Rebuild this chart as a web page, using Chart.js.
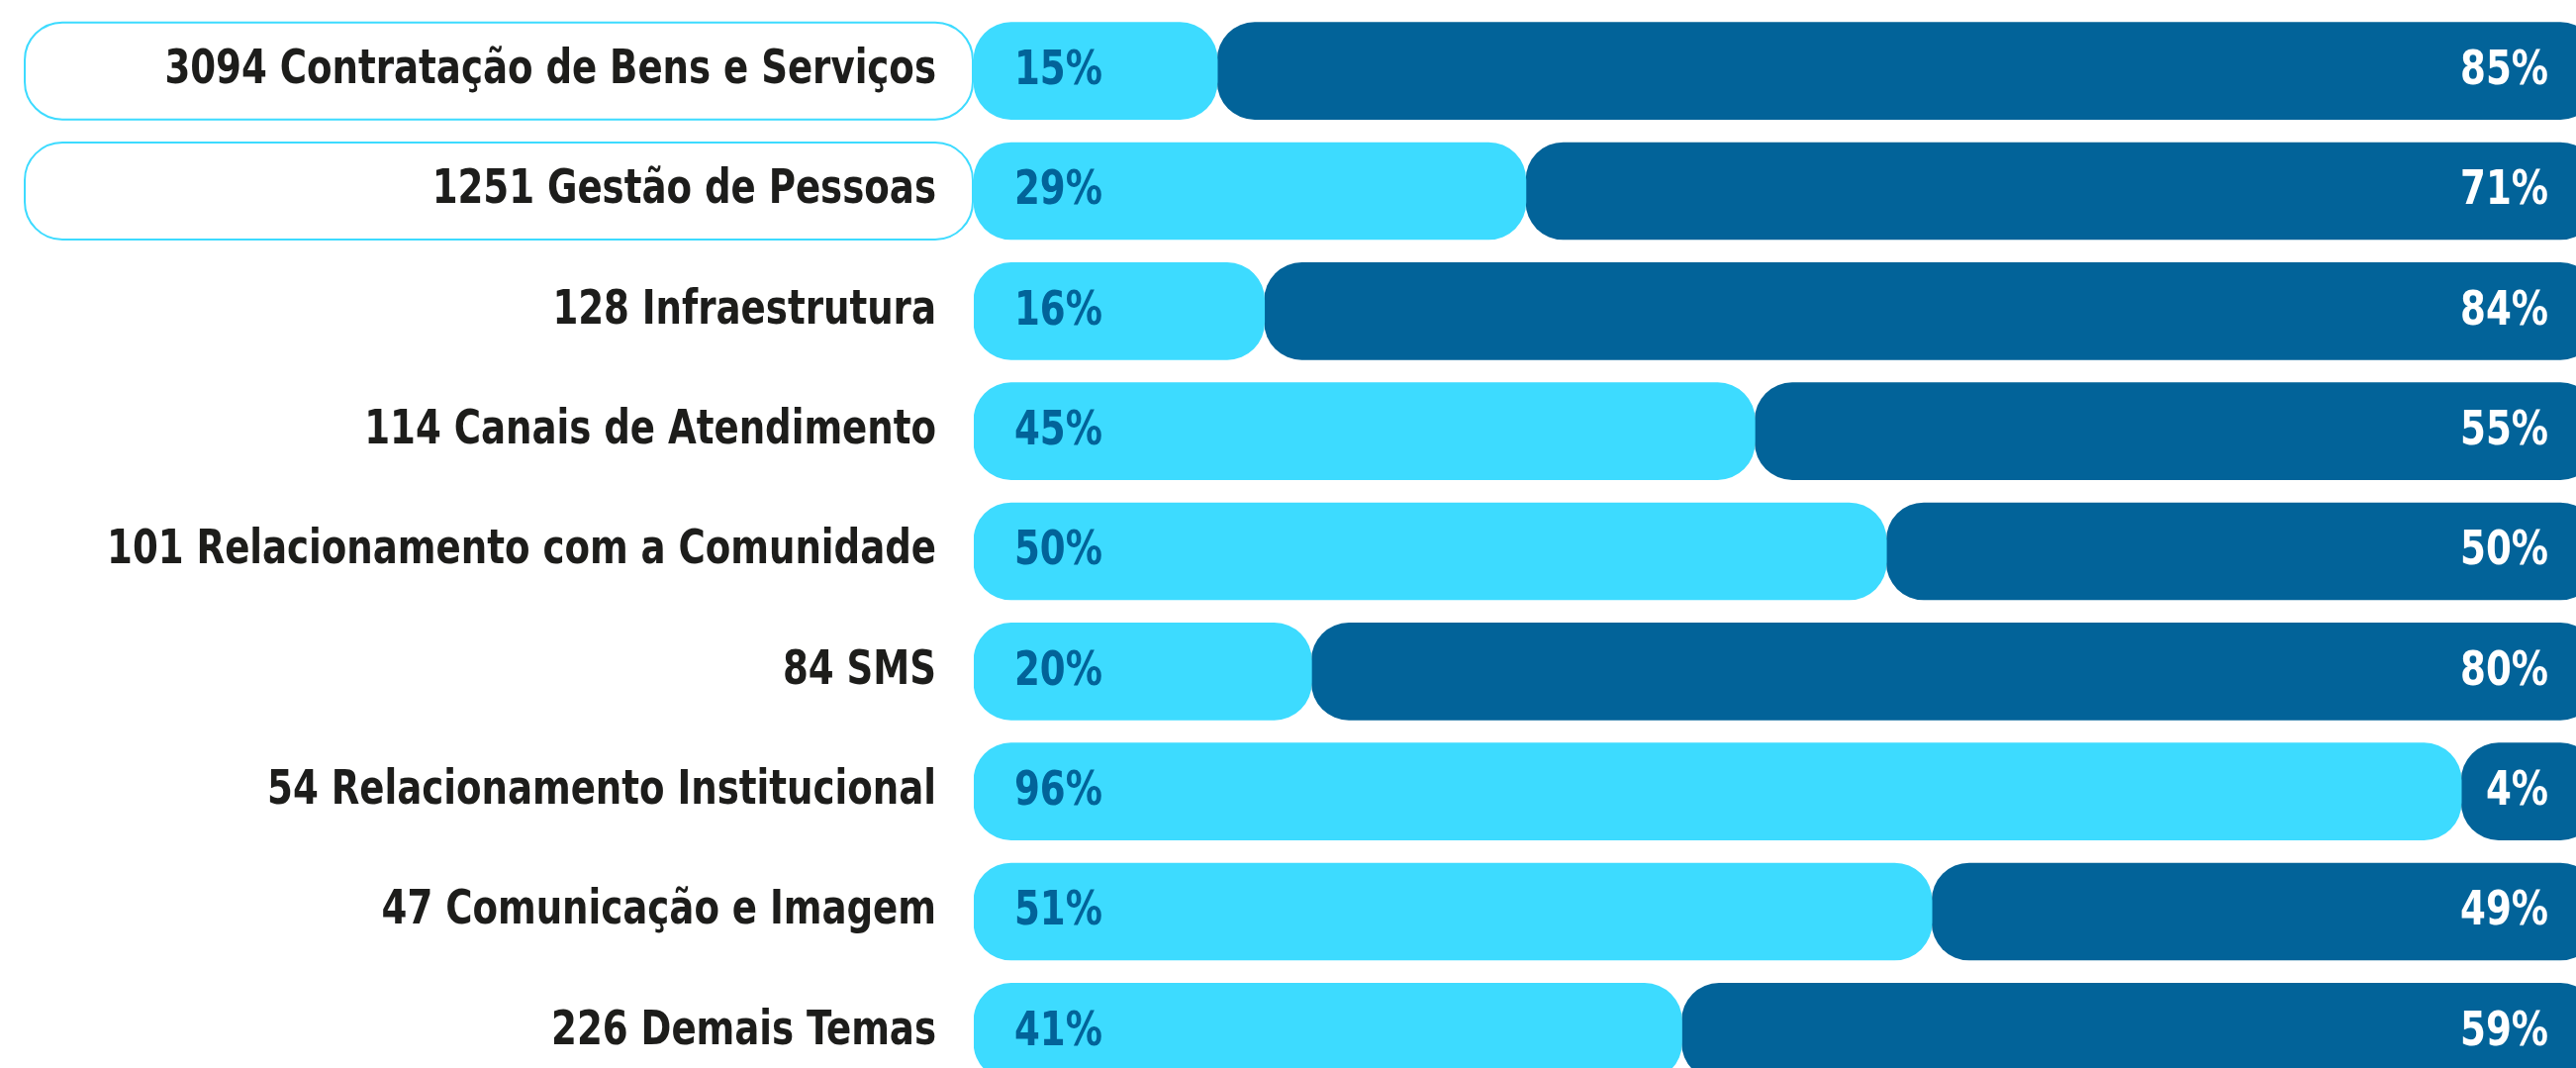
<!DOCTYPE html>
<html>
<head>
<meta charset="utf-8">
<script src="https://cdn.jsdelivr.net/npm/chart.js@4/dist/chart.umd.min.js"></script>
<style>
  html, body { margin: 0; padding: 0; overflow: hidden; background: #ffffff; }
  #wrap { position: absolute; left: 0; top: 0; width: 2625px; height: 1103px; }
</style>
</head>
<body>
<div id="wrap"><canvas id="c"></canvas></div>
<script>
// ---- data ----
const counts = [3094, 1251, 128, 114, 101, 84, 54, 47, 226];
const themes = [
  'Contratação de Bens e Serviços',
  'Gestão de Pessoas',
  'Infraestrutura',
  'Canais de Atendimento',
  'Relacionamento com a Comunidade',
  'SMS',
  'Relacionamento Institucional',
  'Comunicação e Imagem',
  'Demais Temas'
];
// printed percentages
const lightPctLabels = ['15%', '29%', '16%', '45%', '50%', '20%', '96%', '51%', '41%'];
const darkPctLabels  = ['85%', '71%', '84%', '55%', '50%', '80%', '4%', '49%', '59%'];
// bar segment lengths as drawn in the picture (share of the full bar)
const lightBar = [15.0, 34.0, 17.9, 48.1, 56.2, 20.8, 91.6, 59.0, 43.6];
const darkBar  = [85.0, 66.0, 82.1, 51.9, 43.8, 79.2, 8.4, 41.0, 56.4];
// rows that carry an outlined label box
const highlightedRows = [0, 1];

const categories = counts.map((n, i) => n + ' ' + themes[i]);

const LIGHT = '#3ddbff';
const DARK = '#026399';
const FONT = "'DejaVu Sans Condensed', 'Liberation Sans Narrow', 'DejaVu Sans', sans-serif";
const FONT_SIZE = 48;
const SQUEEZE = 0.86;       // horizontal squeeze to imitate the narrow typeface
const RADIUS = { topLeft: 38, topRight: 38, bottomLeft: 38, bottomRight: 38 };

const decorations = {
  id: 'decorations',
  beforeDraw(chart) {
    const ctx = chart.ctx;
    const meta = chart.getDatasetMeta(0);
    // outlined label boxes behind the first rows' category labels
    ctx.save();
    ctx.strokeStyle = LIGHT;
    ctx.lineWidth = 2;
    ctx.fillStyle = '#ffffff';
    highlightedRows.forEach(i => {
      const el = meta.data[i];
      const h = el.height;
      const top = el.y - h / 2;
      const left = 25;
      const right = chart.chartArea.left - 1;
      ctx.beginPath();
      ctx.roundRect(left, top, right - left, h, 38);
      ctx.fill();
      ctx.stroke();
    });
    ctx.restore();
    // narrow the category tick labels around their right edge
    const ys = chart.scales.y;
    if (!ys._squeezed) {
      const orig = ys.drawLabels;
      ys._computeLabelArea = function () { return undefined; };
      ys.drawLabels = function (area) {
        const c = this.ctx;
        const ax = this.right - this.options.ticks.padding;
        c.save();
        c.translate(ax, 0);
        c.scale(SQUEEZE, 1);
        c.translate(-ax, 0);
        orig.call(this, area);
        c.restore();
      };
      ys._squeezed = true;
    }
  },
  afterDatasetsDraw(chart) {
    const ctx = chart.ctx;
    const m0 = chart.getDatasetMeta(0);
    const m1 = chart.getDatasetMeta(1);
    ctx.save();
    ctx.font = 'bold ' + FONT_SIZE + 'px ' + FONT;
    ctx.textBaseline = 'middle';
    m0.data.forEach((el, i) => {
      const x = el.base + 41;
      ctx.save();
      ctx.translate(x, el.y + 1);
      ctx.scale(SQUEEZE, 1);
      ctx.fillStyle = DARK;
      ctx.textAlign = 'left';
      ctx.fillText(lightPctLabels[i], 0, 0);
      ctx.restore();
    });
    m1.data.forEach((el, i) => {
      const x = el.x - 50;
      ctx.save();
      ctx.translate(x, el.y + 1);
      ctx.scale(SQUEEZE, 1);
      ctx.fillStyle = '#ffffff';
      ctx.textAlign = 'right';
      ctx.fillText(darkPctLabels[i], 0, 0);
      ctx.restore();
    });
    ctx.restore();
  }
};

new Chart(document.getElementById('c'), {
  type: 'bar',
  data: {
    labels: categories,
    datasets: [
      { label: 'light', data: lightBar, backgroundColor: LIGHT, borderRadius: RADIUS, borderSkipped: false, barThickness: 98 },
      { label: 'dark', data: darkBar, backgroundColor: DARK, borderRadius: RADIUS, borderSkipped: false, barThickness: 98 }
    ]
  },
  options: {
    indexAxis: 'y',
    responsive: true,
    maintainAspectRatio: false,
    animation: false,
    layout: { padding: { top: 11, bottom: 0, left: 0, right: 0 } },
    plugins: { legend: { display: false }, tooltip: { enabled: false } },
    scales: {
      x: { stacked: true, min: 0, max: 100, display: false },
      y: {
        stacked: true,
        grid: { display: false, drawTicks: false },
        border: { display: false },
        ticks: {
          color: '#1d1d1b',
          padding: 38,
          font: { family: FONT, size: FONT_SIZE, weight: 'bold' }
        },
        afterFit(scale) {
          scale.width = 984;
          scale.paddingTop = 0;
          scale.paddingBottom = 0;
        }
      }
    }
  },
  plugins: [decorations]
});
</script>
</body>
</html>
